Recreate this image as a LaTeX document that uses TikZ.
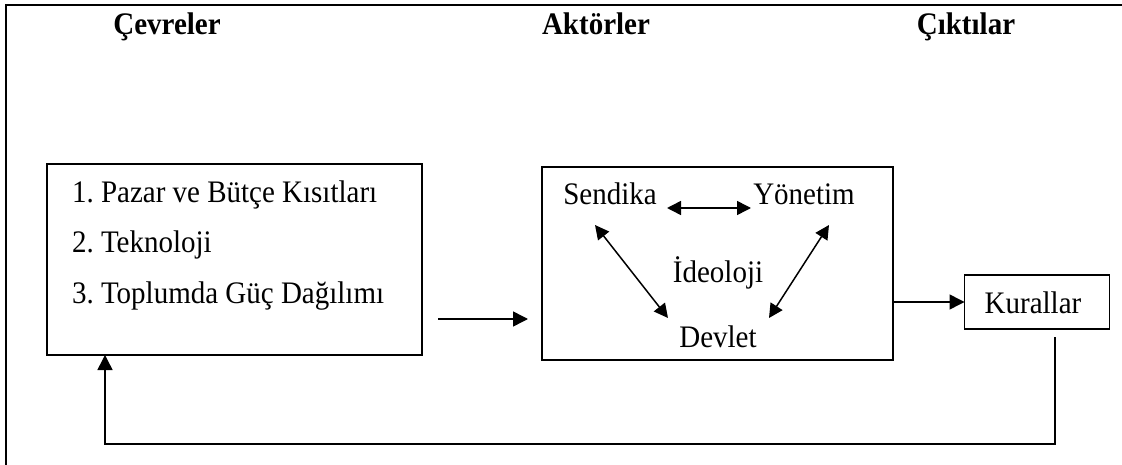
\documentclass[tikz,border=0pt]{standalone}
\usepackage{fontspec}
\setmainfont{Liberation Serif}
\usetikzlibrary{arrows.meta}
% slightly tall lettering
\newcommand{\tallt}[1]{\scalebox{1}[1.08]{#1}}
\begin{document}
\frenchspacing
\begin{tikzpicture}[x=1pt,y=-1pt,
  every node/.style={font=\fontsize{29}{35}\selectfont, inner sep=0pt, outer sep=0pt},
  head/.style={font=\fontsize{29}{35}\selectfont\bfseries, anchor=base},
  lbl/.style={anchor=base},
  box/.style={draw, line width=1.8pt},
  conn/.style={line width=1.5pt, -{Triangle[length=15pt,width=15pt]}},
  dconn/.style={line width=1.5pt, {Triangle[length=14pt,width=14pt]}-{Triangle[length=14pt,width=14pt]}}]
\useasboundingbox (0,0) rectangle (1122,465);

% outer frame (top and left edges)
\draw[line width=2.6pt] (6,466) -- (6,5) -- (1123,5);

% column headings
\node[head] (hEnv) at (167,35) {\tallt{Çevreler}};
\node[head] (hAct) at (596,35) {\tallt{Aktörler}};
\node[head] (hOut) at (966,35) {\tallt{Çıktılar}};

% environments box
\node[box, minimum width=375pt, minimum height=191pt] (env) at (234.5,259.5) {};
\node[lbl, anchor=base west] (e1) at (72,203) {\tallt{1. Pazar ve Bütçe Kısıtları}};
\node[lbl, anchor=base west] (e2) at (72,253) {\tallt{2. Teknoloji}};
\node[lbl, anchor=base west] (e3) at (72,303) {\tallt{3. Toplumda Güç Dağılımı}};

% actors box
\node[box, minimum width=351pt, minimum height=193pt] (act) at (717.5,263.5) {};
\node[lbl] (sen) at (610,205) {\tallt{Sendika}};
\node[lbl] (yon) at (804,205) {\tallt{Yönetim}};
\node[lbl] (ide) at (718,282) {\tallt{İdeoloji}};
\node[lbl] (dev) at (718,347) {\tallt{Devlet}};

% outputs box
\node[box, minimum width=145pt, minimum height=54pt] (kur) at (1037,302) {};
\node[lbl] (kurt) at (1033,313) {\tallt{Kurallar}};

% connector end points
\coordinate (a1s) at (438,319);
\coordinate (a1e) at (528,319);
\coordinate (sy1) at (667,208);
\coordinate (sy2) at (751,208);
\coordinate (sd1) at (595,225);
\coordinate (sd2) at (668,318);
\coordinate (yd1) at (829,225);
\coordinate (yd2) at (769,318);
\coordinate (fbtop) at (1055,337);
\coordinate (fbleft) at (105,444);

% connectors
\draw[conn] (a1s) -- (a1e);
\draw[dconn] (sy1) -- (sy2);
\draw[dconn] (sd1) -- (sd2);
\draw[dconn] (yd1) -- (yd2);
\draw[conn] (act.east |- kur.west) -- (kur.west);
\draw[conn] (fbtop) |- (fbleft) -- (fbleft |- env.south);
\end{tikzpicture}
\end{document}
